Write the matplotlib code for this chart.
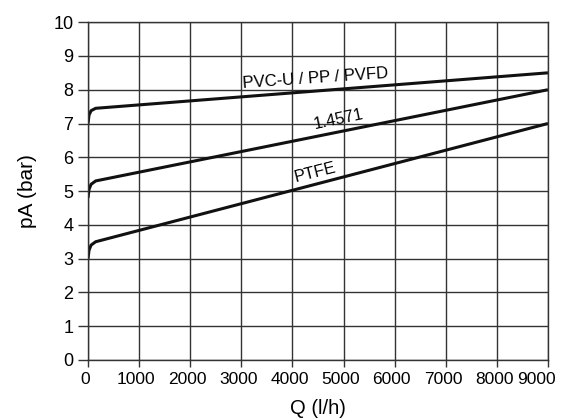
import numpy as np
from matplotlib import pyplot as plt
from matplotlib import transforms

# flow (l/h) and inlet pressure (bar)
q = [0, 20, 60, 150, 9000]
p_pvc = [7.0, 7.25, 7.38, 7.45, 8.5]
p_steel = [4.8, 5.05, 5.2, 5.3, 8.0]
p_ptfe = [3.0, 3.25, 3.4, 3.5, 7.0]

x_ticks = list(range(0, 9001, 1000))
y_ticks = list(range(0, 11))

plt.rcParams['font.family'] = ['Liberation Sans', 'DejaVu Sans']

fig = plt.figure(figsize=(5.62, 4.18), dpi=100)
ax = fig.add_axes([0.1566, 0.1388, 0.8184, 0.8082])

for p in (p_pvc, p_steel, p_ptfe):
    ax.plot(q, p, color="#111111", linewidth=2.2, solid_capstyle="butt")

ax.set_xlim(0, 9000)
ax.set_ylim(0, 10)
ax.set_xticks(x_ticks)
ax.set_yticks(y_ticks)
ax.grid(True, color="#333333", linewidth=1.0)
ax.set_axisbelow(True)
for s in ax.spines.values():
    s.set_color("#333333")
    s.set_linewidth(1.0)
ax.tick_params(axis="x", length=5, width=1.0, color="#333333", labelsize=12.5, pad=4)
ax.tick_params(axis="y", length=7.5, width=1.0, color="#333333", labelsize=13, pad=3)

# labels sit slightly left of their ticks, the last one more so
labels = ax.get_xticklabels()
for i, lab in enumerate(labels):
    dx = -8 / 72 if i == len(labels) - 1 else -2 / 72
    lab.set_transform(lab.get_transform() + transforms.ScaledTranslation(dx, 0, fig.dpi_scale_trans))

ax.set_xlabel("Q (l/h)", fontsize=14.5, labelpad=8)
ax.set_ylabel("pA (bar)", fontsize=15, labelpad=12)

ax.text(4441, 8.34, "PVC-U / PP / PVFD", fontsize=12, rotation=4, ha="center", va="center")
ax.text(4911, 7.13, "1.4571", fontsize=12, rotation=12, ha="center", va="center")
ax.text(4441, 5.56, "PTFE", fontsize=12, rotation=14, ha="center", va="center")

fig.savefig("out.png", dpi=100)
